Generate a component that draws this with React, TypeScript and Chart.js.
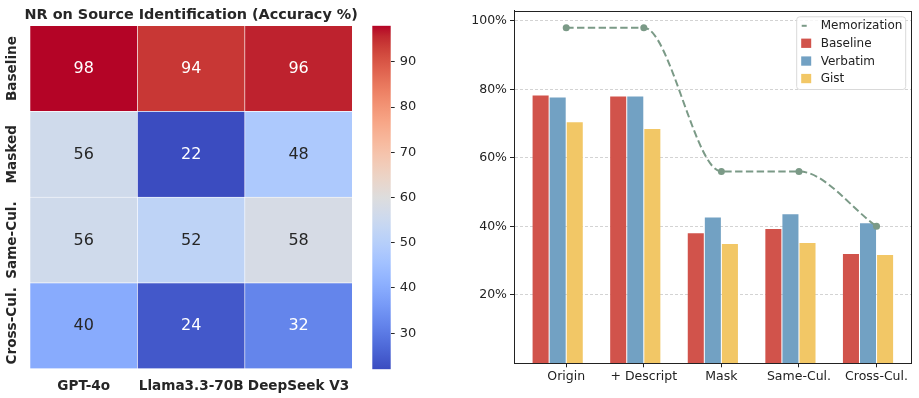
import React, { useEffect, useRef } from 'react';
import { Chart, registerables } from 'chart.js';

Chart.register(...registerables);

// ---------- data: heatmap ----------
const MODELS = ['GPT-4o', 'Llama3.3-70B', 'DeepSeek V3'];
const CONDITIONS = ['Baseline', 'Masked', 'Same-Cul.', 'Cross-Cul.'];
const NR_BASELINE = [98, 94, 96];
const NR_MASKED = [56, 22, 48];
const NR_SAME_CUL = [56, 52, 58];
const NR_CROSS_CUL = [40, 24, 32];
const HEAT_ROWS = [NR_BASELINE, NR_MASKED, NR_SAME_CUL, NR_CROSS_CUL];
const COLORBAR_TICKS = [30, 40, 50, 60, 70, 80, 90];
const HEAT_TITLE = 'NR on Source Identification (Accuracy %)';

// ---------- data: bar chart ----------
const STAGES = ['Origin', '+ Descript', 'Mask', 'Same-Cul.', 'Cross-Cul.'];
const MEMORIZATION = [98, 98, 56, 56, 40];
const BASELINE = [78.2, 77.9, 38.0, 39.2, 31.9];
const VERBATIM = [77.6, 77.9, 42.6, 43.5, 40.9];
const GIST = [70.4, 68.4, 34.8, 35.1, 31.6];
const PCT_TICKS = [20, 40, 60, 80, 100];

const FONT = "'DejaVu Sans', sans-serif";
const DARK = '#262626';
const LINE_C = '#7b9a87';
const BAR_COLORS = ['#d1534b', '#72a1c3', '#f2c766'];
const BAR_LABELS = ['Baseline', 'Verbatim', 'Gist'];
const BAR_W = 0.22;
const BAR_OFFSETS = [-1.5 * BAR_W, -0.5 * BAR_W, 0.5 * BAR_W];

// coolwarm colormap (Moreland) samples
const COOLWARM: number[][] = [
  [59, 76, 192], [68, 90, 204], [77, 104, 215], [87, 117, 225], [98, 130, 234],
  [108, 142, 241], [119, 154, 247], [130, 165, 251], [141, 176, 254], [152, 185, 255],
  [163, 194, 255], [174, 201, 253], [184, 208, 249], [194, 213, 244], [204, 217, 238],
  [213, 219, 230], [221, 221, 221], [229, 216, 209], [236, 211, 197], [241, 204, 185],
  [245, 196, 173], [247, 187, 160], [247, 177, 148], [247, 166, 135], [244, 154, 123],
  [241, 141, 111], [236, 127, 99], [229, 112, 88], [222, 96, 77], [213, 80, 66],
  [203, 62, 56], [192, 40, 47], [180, 4, 38],
];

function coolwarmRGB(t: number): number[] {
  const tt = Math.max(0, Math.min(1, t)) * (COOLWARM.length - 1);
  const i = Math.min(Math.floor(tt), COOLWARM.length - 2);
  const f = tt - i;
  const a = COOLWARM[i], b = COOLWARM[i + 1];
  return [0, 1, 2].map((k) => a[k] + (b[k] - a[k]) * f);
}
function rgbStr(c: number[]) {
  return `rgb(${Math.round(c[0])},${Math.round(c[1])},${Math.round(c[2])})`;
}
function textColorFor(c: number[]) {
  const lin = c.map((v) => {
    const s = v / 255;
    return s <= 0.03928 ? s / 12.92 : Math.pow((s + 0.055) / 1.055, 2.4);
  });
  const lum = 0.2126 * lin[0] + 0.7152 * lin[1] + 0.0722 * lin[2];
  return lum > 0.408 ? DARK : '#ffffff';
}

const ALL_HEAT = HEAT_ROWS.flat();
const VMIN = Math.min(...ALL_HEAT);
const VMAX = Math.max(...ALL_HEAT);

const heatLabels = {
  id: 'heatLabels',
  afterDatasetsDraw(chart: any) {
    const { ctx, chartArea } = chart;
    ctx.save();
    ctx.textAlign = 'center';
    ctx.textBaseline = 'middle';
    ctx.font = `16px ${FONT}`;
    chart.data.datasets.forEach((ds: any, di: number) => {
      const meta = chart.getDatasetMeta(di);
      meta.data.forEach((el: any, i: number) => {
        const v = ds.values[i];
        const rgb = coolwarmRGB((v - VMIN) / (VMAX - VMIN));
        ctx.fillStyle = textColorFor(rgb);
        ctx.fillText(String(v), el.x, (el.y + el.base) / 2 + 0.5);
      });
    });
    const ys = chart.scales.y;
    ctx.font = `bold 13.6px ${FONT}`;
    ctx.fillStyle = DARK;
    CONDITIONS.forEach((name, r) => {
      const cy = ys.getPixelForValue(CONDITIONS.length - r - 0.5);
      ctx.save();
      ctx.translate(chartArea.left - 17.5, cy);
      ctx.rotate(-Math.PI / 2);
      ctx.fillText(name, 0, 0);
      ctx.restore();
    });
    // title
    ctx.font = `bold 14.4px ${FONT}`;
    ctx.textBaseline = 'alphabetic';
    ctx.fillText(HEAT_TITLE, (chartArea.left + chartArea.right) / 2, chartArea.top - 6.4);
    ctx.restore();
  },
};

const frameAndLegend = {
  id: 'frameAndLegend',
  afterDraw(chart: any) {
    const { ctx, chartArea: ca } = chart;
    ctx.save();
    ctx.strokeStyle = '#222';
    ctx.lineWidth = 1;
    ctx.strokeRect(Math.round(ca.left) + 0.5, Math.round(ca.top) + 0.5, Math.round(ca.right - ca.left) - 1, Math.round(ca.bottom - ca.top) - 1);

    const w = 109, h = 72.7;
    const left = ca.right - 6 - w, top = ca.top + 6.3;
    ctx.beginPath();
    const r = 3;
    ctx.moveTo(left + r, top);
    ctx.arcTo(left + w, top, left + w, top + h, r);
    ctx.arcTo(left + w, top + h, left, top + h, r);
    ctx.arcTo(left, top + h, left, top, r);
    ctx.arcTo(left, top, left + w, top, r);
    ctx.closePath();
    ctx.fillStyle = 'rgba(255,255,255,0.8)';
    ctx.fill();
    ctx.strokeStyle = '#d9d9d9';
    ctx.stroke();

    const rowsY = [9, 26.4, 44.2, 61.7];
    ctx.font = `12px ${FONT}`;
    ctx.textAlign = 'left';
    ctx.textBaseline = 'middle';
    chart.data.datasets.forEach((ds: any, i: number) => {
      const cy = top + rowsY[i];
      if (ds.type === 'line') {
        ctx.strokeStyle = ds.borderColor;
        ctx.lineWidth = 2;
        ctx.beginPath();
        ctx.moveTo(left + 5, cy);
        ctx.lineTo(left + 10, cy);
        ctx.stroke();
      } else {
        ctx.fillStyle = ds.backgroundColor;
        ctx.fillRect(left + 4.5, cy - 4.6, 10, 9.3);
      }
      ctx.fillStyle = '#222';
      ctx.fillText(ds.label, left + 24, cy + 0.5);
    });
    ctx.restore();
  },
};

export default function App() {
  const heatRef = useRef<HTMLCanvasElement>(null);
  const cbarRef = useRef<HTMLCanvasElement>(null);
  const barRef = useRef<HTMLCanvasElement>(null);

  useEffect(() => {
    const heat = new Chart(heatRef.current as HTMLCanvasElement, {
      type: 'bar',
      data: {
        labels: MODELS,
        datasets: [...HEAT_ROWS].reverse().map((row) => ({
          data: row.map(() => 1),
          values: row,
          backgroundColor: row.map((v) => rgbStr(coolwarmRGB((v - VMIN) / (VMAX - VMIN)))),
          borderColor: '#ffffff',
          borderWidth: 0.6,
          borderSkipped: false,
          categoryPercentage: 1,
          barPercentage: 1,
        })) as any,
      },
      options: {
        animation: false,
        responsive: false,
        events: [],
        layout: { padding: { left: 30, right: 12.7, top: 25.7, bottom: 0 } },
        plugins: {
          legend: { display: false },
          tooltip: { enabled: false },
          title: { display: false },
        },
        scales: {
          x: {
            stacked: true,
            grid: { display: false },
            border: { display: false },
            ticks: {
              color: DARK,
              font: { family: FONT, size: 13.6, weight: 'bold' },
              padding: 2,
              maxRotation: 0,
              minRotation: 0,
              autoSkip: false,
            },
            afterFit: (s: any) => { s.height = 29.3; },
          },
          y: { stacked: true, min: 0, max: CONDITIONS.length, display: false },
        },
      } as any,
      plugins: [heatLabels],
    });

    const cbar = new Chart(cbarRef.current as HTMLCanvasElement, {
      type: 'bar',
      data: {
        labels: [''],
        datasets: [{
          data: [[VMIN, VMAX]] as any,
          borderWidth: 0,
          categoryPercentage: 1,
          barPercentage: 1,
          backgroundColor: (c: any) => {
            const chart = c.chart;
            const ys = chart.scales.y;
            if (!chart.chartArea || !ys) return '#ccc';
            const g = chart.ctx.createLinearGradient(0, ys.getPixelForValue(VMIN), 0, ys.getPixelForValue(VMAX));
            COOLWARM.forEach((col, i) => g.addColorStop(i / (COOLWARM.length - 1), rgbStr(col)));
            return g;
          },
        }],
      },
      options: {
        animation: false,
        responsive: false,
        events: [],
        layout: { padding: { left: 12.3, right: 0, top: 25.7, bottom: 28.7 } },
        plugins: { legend: { display: false }, tooltip: { enabled: false } },
        scales: {
          x: { display: false },
          y: {
            position: 'right',
            min: VMIN,
            max: VMAX,
            afterBuildTicks: (s: any) => { s.ticks = COLORBAR_TICKS.map((v) => ({ value: v })); },
            grid: { drawOnChartArea: false, drawTicks: true, tickLength: 4, tickColor: DARK, tickWidth: 1 },
            border: { display: false },
            ticks: { color: DARK, font: { family: FONT, size: 13 }, padding: 5 },
            afterFit: (s: any) => { s.width = 29.3; },
          },
        },
      } as any,
    });

    const bars = new Chart(barRef.current as HTMLCanvasElement, {
      type: 'bar',
      data: {
        datasets: [
          {
            type: 'line',
            label: 'Memorization',
            data: MEMORIZATION.map((v, i) => ({ x: i, y: v })),
            borderColor: LINE_C,
            backgroundColor: LINE_C,
            borderDash: [7.4, 3.4],
            borderWidth: 2,
            pointRadius: 3.5,
            pointBorderWidth: 0,
            pointBackgroundColor: LINE_C,
            cubicInterpolationMode: 'monotone',
            order: 0,
          },
          ...[BASELINE, VERBATIM, GIST].map((vals, k) => ({
            type: 'bar',
            label: BAR_LABELS[k],
            data: vals.map((v, i) => ({ x: i + BAR_OFFSETS[k], y: v })),
            backgroundColor: BAR_COLORS[k],
            borderWidth: 0,
            grouped: false,
            categoryPercentage: 1,
            barPercentage: 0.94,
            order: 1,
          })),
        ] as any,
      },
      options: {
        animation: false,
        responsive: false,
        events: [],
        layout: { padding: { left: 0, right: 7.3, top: 7, bottom: 0 } },
        plugins: { legend: { display: false }, tooltip: { enabled: false } },
        scales: {
          x: {
            type: 'linear',
            min: -0.673,
            max: 4.453,
            offset: false,
            afterBuildTicks: (s: any) => { s.ticks = STAGES.map((_, i) => ({ value: i })); },
            grid: { offset: false, drawOnChartArea: false, drawTicks: true, tickLength: 4, tickColor: '#222', tickWidth: 1 },
            border: { display: true, color: '#222', width: 1 },
            ticks: {
              color: '#222',
              font: { family: FONT, size: 12.5 },
              padding: 2,
              maxRotation: 0,
              minRotation: 0,
              autoSkip: false,
              callback: (_v: any, i: number) => STAGES[i],
            },
            afterFit: (s: any) => { s.height = 34.7; },
          },
          y: {
            min: 0,
            max: 103,
            afterBuildTicks: (s: any) => { s.ticks = PCT_TICKS.map((v) => ({ value: v })); },
            grid: { color: '#c8c8c8', lineWidth: 0.8, drawTicks: true, tickLength: 4, tickColor: '#222', tickWidth: 1, tickBorderDash: [] },
            border: { display: true, color: '#222', width: 1, dash: [3, 2] },
            ticks: { color: '#222', font: { family: FONT, size: 12.5 }, padding: 3, callback: (v: any) => `${v}%` },
            afterFit: (s: any) => { s.width = 74; },
          },
        },
      } as any,
      plugins: [frameAndLegend],
    });

    return () => {
      heat.destroy();
      cbar.destroy();
      bars.destroy();
    };
  }, []);

  return (
    <div style={{ position: 'absolute', left: 0, top: 0, width: 919, height: 398, background: '#fff', overflow: 'hidden' }}>
      <canvas ref={heatRef} width={365} height={398} style={{ position: 'absolute', left: 0, top: 0, width: 365, height: 398 }} />
      <canvas ref={cbarRef} width={60} height={398} style={{ position: 'absolute', left: 360, top: 0, width: 60, height: 398 }} />
      <canvas ref={barRef} width={479} height={398} style={{ position: 'absolute', left: 440, top: 0, width: 479, height: 398 }} />
    </div>
  );
}
